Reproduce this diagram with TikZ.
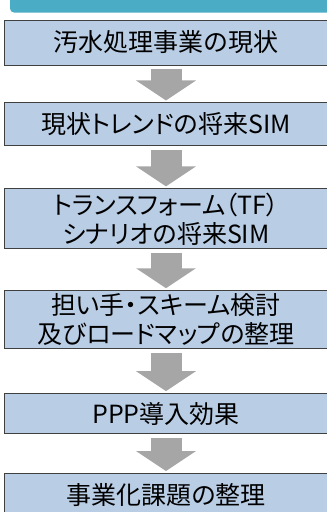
\documentclass[tikz,border=0pt]{standalone}
\usepackage{fontspec}
\setmainfont{Noto Sans CJK JP}[RawFeature={+palt}]
\usepackage{tikz}
\usetikzlibrary{positioning,arrows.meta}
\definecolor{boxblue}{HTML}{B9CDE5}
\definecolor{boxline}{HTML}{404040}
\definecolor{arrowgray}{HTML}{A6A6A6}
\definecolor{barteal}{HTML}{4BACC6}
\tikzstyle{block} = [draw=boxline, fill=boxblue, rectangle, line width=0.9pt, minimum width=324pt, inner sep=1pt, align=center, font=\fontsize{25}{29}\selectfont]
\tikzstyle{flow} = [draw=arrowgray, line width=31pt, -{Triangle[width=59pt,length=20pt]}, shorten <=4pt, shorten >=2pt]

\begin{document}
\begin{tikzpicture}[x=1pt,y=1pt]
    \useasboundingbox (0,0) rectangle (327,-512);

    % header bar
    \fill [barteal, rounded corners=4pt] (10,-12.5) rectangle (345,12);

    \node [block, minimum height=45pt, name=s1] at (166,-42.5) {汚水処理事業の現状};
    \node [block, below=37pt of s1, minimum height=43pt, name=s2] {現状トレンドの将来SIM};
    \node [block, below=42pt of s2, minimum height=60pt, name=s3] {トランスフォーム（TF）\\シナリオの将来SIM};
    \node [block, below=41pt of s3, minimum height=58pt, name=s4] {担い手・スキーム検討\\及びロードマップの整理};
    \node [block, below=44pt of s4, minimum height=40pt, name=s5] {PPP導入効果};
    \node [block, below=39pt of s5, minimum height=44pt, name=s6] {事業化課題の整理};

    \draw [flow] (s1) -- (s2);
    \draw [flow] (s2) -- (s3);
    \draw [flow] (s3) -- (s4);
    \draw [flow] (s4) -- (s5);
    \draw [flow] (s5) -- (s6);

\end{tikzpicture}
\end{document}
